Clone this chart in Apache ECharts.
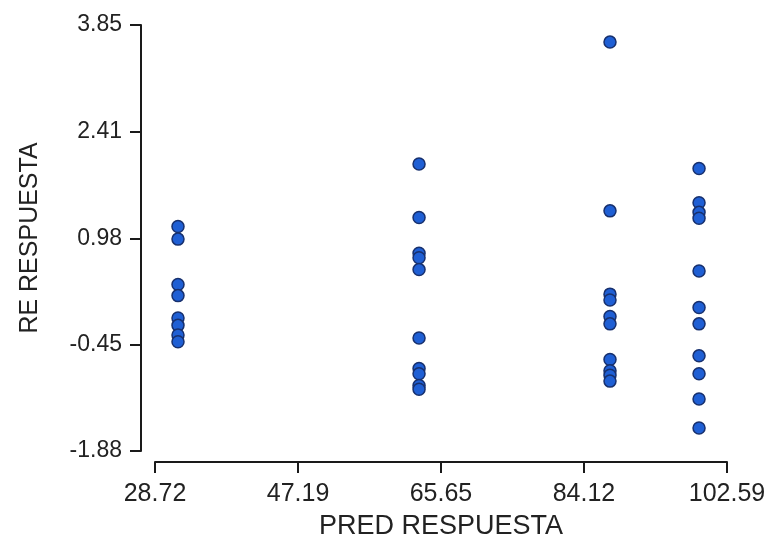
<!DOCTYPE html>
<html>
<head>
<meta charset="utf-8">
<script src="https://cdn.jsdelivr.net/npm/echarts@6/dist/echarts.min.js"></script>
<style>
html,body{margin:0;padding:0;background:#fff;}
#chart{width:769px;height:545px;}
</style>
</head>
<body>
<div id="chart"></div>
<script>
// Tick values shown on the axes
var xTicks = [28.72, 47.19, 65.65, 84.12, 102.59];
var yTicks = [-1.88, -0.45, 0.98, 2.41, 3.85];

// Predicted values (x) for each group of residuals
var predGroups = [31.69, 62.82, 87.48, 98.98];

// Residuals, one list per predicted value
var resid1 = [1.14, 0.97, 0.36, 0.21, -0.09, -0.19, -0.32, -0.41];
var resid2 = [1.98, 1.26, 0.78, 0.72, 0.56, -0.36, -0.77, -0.84, -1.00, -1.05];
var resid3 = [3.62, 1.35, 0.23, 0.15, -0.07, -0.17, -0.65, -0.80, -0.86, -0.94];
var resid4 = [1.92, 1.46, 1.33, 1.25, 0.54, 0.05, -0.17, -0.60, -0.84, -1.18, -1.57];

var residGroups = [resid1, resid2, resid3, resid4];
var points = [];
for (var g = 0; g < predGroups.length; g++) {
  for (var i = 0; i < residGroups[g].length; i++) {
    points.push([predGroups[g], residGroups[g][i]]);
  }
}

var chart = echarts.init(document.getElementById('chart'));
var fontFam = '"Liberation Sans", Arial, sans-serif';
chart.setOption({
  backgroundColor: '#ffffff',
  animation: false,
  grid: {left: 155, right: 42, top: 25, bottom: 88},
  xAxis: {
    type: 'value',
    min: xTicks[0],
    max: xTicks[xTicks.length - 1],
    offset: 11,
    name: 'PRED RESPUESTA',
    nameLocation: 'middle',
    nameGap: 51,
    nameTextStyle: {fontFamily: fontFam, fontSize: 27, color: '#222'},
    axisLine: {show: true, onZero: false, lineStyle: {color: '#1a1a1a', width: 2}},
    axisTick: {show: true, length: 11, lineStyle: {color: '#1a1a1a', width: 2}, customValues: xTicks},
    axisLabel: {customValues: xTicks, margin: 20, fontFamily: fontFam, fontSize: 25, color: '#222',
      formatter: function (v) { return v.toFixed(2); }},
    splitLine: {show: false}
  },
  yAxis: {
    type: 'value',
    min: yTicks[0],
    max: yTicks[yTicks.length - 1],
    offset: 14,
    name: 'RE RESPUESTA',
    nameLocation: 'middle',
    nameRotate: 90,
    nameGap: 98,
    nameTextStyle: {fontFamily: fontFam, fontSize: 25, color: '#222'},
    axisLine: {show: true, onZero: false, lineStyle: {color: '#1a1a1a', width: 2}},
    axisTick: {show: true, length: 11, lineStyle: {color: '#1a1a1a', width: 2}, customValues: yTicks},
    axisLabel: {customValues: yTicks, margin: 19, fontFamily: fontFam, fontSize: 23, color: '#222',
      formatter: function (v) { return v.toFixed(2); }},
    splitLine: {show: false}
  },
  series: [{
    type: 'scatter',
    data: points,
    symbol: 'circle',
    symbolSize: 12,
    itemStyle: {color: '#1f5fd4', borderColor: '#17306e', borderWidth: 1.5, opacity: 1}
  }]
});
</script>
</body>
</html>
